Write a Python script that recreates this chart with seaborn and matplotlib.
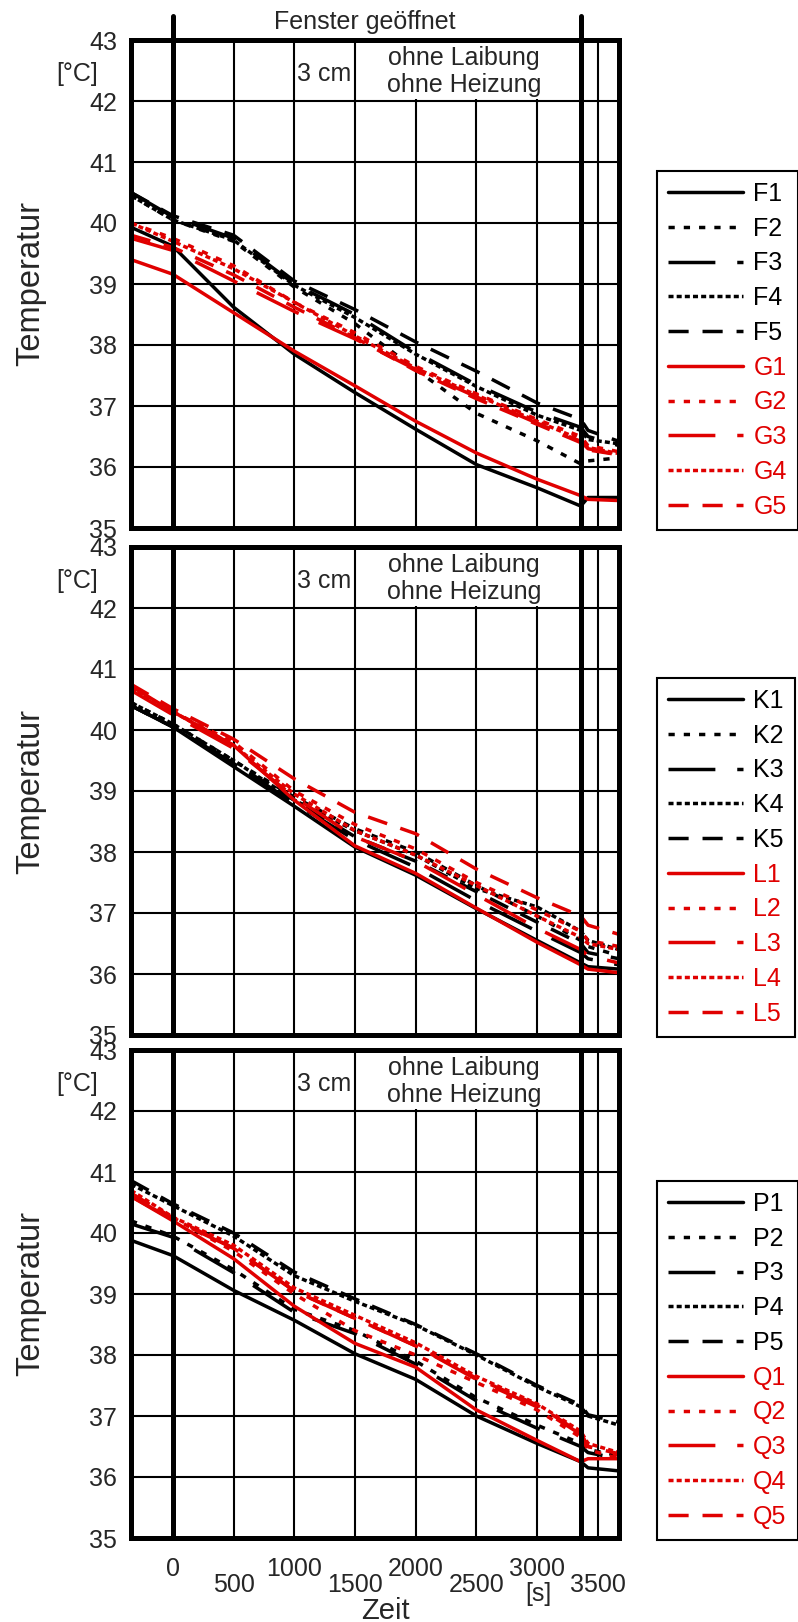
import matplotlib
matplotlib.use('Agg')
import matplotlib.pyplot as plt
import seaborn as sns
import pandas as pd
from matplotlib.patches import Rectangle
from matplotlib.lines import Line2D

sns.set_style('white')
plt.rcParams['font.family'] = ['Liberation Sans', 'DejaVu Sans']

# ---------------- data ----------------
time_s = [-345, 0, 500, 1000, 1500, 2000, 2500, 3000, 3360, 3420, 3675]

# panel 1
F1 = [39.93, 39.62, 38.62, 37.85, 37.22, 36.62, 36.04, 35.66, 35.36, 35.50, 35.50]
F2 = [40.45, 40.05, 39.70, 38.95, 38.35, 37.60, 36.88, 36.43, 36.05, 36.10, 36.15]
F3 = [40.50, 40.10, 39.75, 39.00, 38.50, 37.88, 37.35, 36.90, 36.65, 36.50, 36.35]
F4 = [40.45, 40.05, 39.72, 38.98, 38.45, 37.85, 37.32, 36.85, 36.60, 36.45, 36.38]
F5 = [40.50, 40.12, 39.80, 39.05, 38.58, 38.05, 37.57, 37.05, 36.78, 36.60, 36.42]
G1 = [39.40, 39.16, 38.53, 37.90, 37.33, 36.75, 36.23, 35.80, 35.53, 35.47, 35.45]
G2 = [40.00, 39.75, 39.30, 38.70, 38.20, 37.65, 37.20, 36.78, 36.50, 36.35, 36.25]
G3 = [39.75, 39.55, 39.05, 38.55, 38.10, 37.60, 37.15, 36.72, 36.42, 36.30, 36.20]
G4 = [40.00, 39.70, 39.25, 38.70, 38.15, 37.62, 37.18, 36.75, 36.45, 36.32, 36.22]
G5 = [39.80, 39.60, 39.15, 38.62, 38.12, 37.58, 37.12, 36.70, 36.40, 36.28, 36.20]

# panel 2
K1 = [40.40, 40.05, 39.40, 38.75, 38.08, 37.62, 37.07, 36.55, 36.18, 36.12, 36.08]
K2 = [40.45, 40.10, 39.50, 38.90, 38.38, 38.00, 37.45, 36.95, 36.55, 36.45, 36.30]
K3 = [40.40, 40.05, 39.45, 38.80, 38.20, 37.75, 37.20, 36.70, 36.35, 36.25, 36.15]
K4 = [40.45, 40.10, 39.50, 38.85, 38.35, 37.95, 37.40, 37.10, 36.70, 36.55, 36.40]
K5 = [40.40, 40.05, 39.45, 38.85, 38.25, 37.85, 37.35, 36.85, 36.50, 36.35, 36.25]
L1 = [40.72, 40.30, 39.75, 38.85, 38.10, 37.65, 37.08, 36.52, 36.15, 36.08, 36.02]
L2 = [40.70, 40.30, 39.80, 39.00, 38.45, 38.05, 37.50, 37.05, 36.70, 36.55, 36.45]
L3 = [40.65, 40.25, 39.70, 38.90, 38.25, 37.85, 37.30, 36.75, 36.40, 36.30, 36.18]
L4 = [40.70, 40.30, 39.75, 38.95, 38.35, 37.95, 37.45, 36.95, 36.60, 36.50, 36.40]
L5 = [40.75, 40.35, 39.85, 39.20, 38.65, 38.30, 37.72, 37.25, 36.95, 36.80, 36.65]

# panel 3
P1 = [39.88, 39.63, 39.06, 38.57, 38.02, 37.60, 37.00, 36.55, 36.25, 36.15, 36.10]
P2 = [40.20, 39.95, 39.40, 38.75, 38.40, 37.90, 37.30, 36.85, 36.55, 36.45, 36.35]
P3 = [40.15, 39.93, 39.35, 38.70, 38.35, 37.85, 37.25, 36.80, 36.50, 36.40, 36.30]
P4 = [40.80, 40.45, 39.95, 39.30, 38.88, 38.49, 38.00, 37.48, 37.15, 37.00, 36.85]
P5 = [40.86, 40.48, 40.00, 39.36, 38.92, 38.50, 38.02, 37.50, 37.18, 37.02, 36.90]
Q1 = [40.60, 40.20, 39.58, 38.80, 38.19, 37.80, 37.10, 36.60, 36.25, 36.30, 36.30]
Q2 = [40.65, 40.25, 39.70, 39.00, 38.40, 38.00, 37.55, 37.10, 36.65, 36.45, 36.30]
Q3 = [40.60, 40.22, 39.75, 39.05, 38.60, 38.15, 37.60, 37.15, 36.70, 36.50, 36.35]
Q4 = [40.70, 40.26, 39.80, 39.10, 38.65, 38.20, 37.65, 37.20, 36.75, 36.55, 36.40]
Q5 = [40.65, 40.25, 39.75, 39.05, 38.60, 38.15, 37.62, 37.18, 36.72, 36.50, 36.38]

panels = [
    (['F1', 'F2', 'F3', 'F4', 'F5', 'G1', 'G2', 'G3', 'G4', 'G5'],
     [F1, F2, F3, F4, F5, G1, G2, G3, G4, G5]),
    (['K1', 'K2', 'K3', 'K4', 'K5', 'L1', 'L2', 'L3', 'L4', 'L5'],
     [K1, K2, K3, K4, K5, L1, L2, L3, L4, L5]),
    (['P1', 'P2', 'P3', 'P4', 'P5', 'Q1', 'Q2', 'Q3', 'Q4', 'Q5'],
     [P1, P2, P3, P4, P5, Q1, Q2, Q3, Q4, Q5]),
]

y_ticks = [35, 36, 37, 38, 39, 40, 41, 42, 43]
x_major = [0, 1000, 2000, 3000]
x_minor = [500, 1500, 2500, 3500]
window_open, window_close = 0, 3360

# ---------------- styles ----------------
RED = '#e00000'
BLACK = '#000000'
dash_list = ['', (1.8, 2.6), (13.5, 6.3), (1.45, 0.9), (5.8, 4.0)]
LW = 2.5

W, H = 798, 1622
fig = plt.figure(figsize=(W / 100, H / 100), dpi=100)

ax_tops = [40, 547, 1050]
ax_h = 488
left_px, right_px = 131, 619

for pi, (names, series) in enumerate(panels):
    top = ax_tops[pi]
    ax = fig.add_axes([left_px / W, 1 - (top + ax_h) / H,
                       (right_px - left_px) / W, ax_h / H])
    colors = [BLACK] * 5 + [RED] * 5
    dashes = dash_list + dash_list
    rows = []
    for n, s in zip(names, series):
        for t, v in zip(time_s, s):
            rows.append({'Zeit': t, 'Temperatur': v, 'Messstelle': n})
    df = pd.DataFrame(rows)
    sns.lineplot(data=df, x='Zeit', y='Temperatur', hue='Messstelle',
                 style='Messstelle', hue_order=names, style_order=names,
                 palette=dict(zip(names, colors)),
                 dashes=dict(zip(names, dashes)),
                 linewidth=LW, estimator=None, sort=False, legend=False,
                 ax=ax, zorder=2)

    ax.set_xlim(-345, 3675)
    ax.set_ylim(35, 43)
    ax.set_yticks(y_ticks)
    ax.set_xticks(x_major)
    ax.set_xticks(x_minor, minor=True)
    ax.set_axisbelow(True)
    ax.grid(True, which='both', axis='x', color='black', linewidth=1.5)
    ax.grid(True, which='major', axis='y', color='black', linewidth=1.5)
    for sp in ax.spines.values():
        sp.set_linewidth(3.6)
        sp.set_color('black')
        sp.set_zorder(6)
    ax.tick_params(axis='y', length=0, labelsize=18, pad=10)
    ax.tick_params(axis='x', which='both', length=0, labelsize=18)
    ax.tick_params(axis='x', which='major', pad=14)
    ax.tick_params(axis='x', which='minor', pad=25)
    ax.set_xlabel('')
    ax.set_ylabel('')
    if pi < 2:
        ax.set_xticklabels([])
        ax.set_xticklabels([], minor=True)
    else:
        ax.set_xticklabels([str(v) for v in x_major])
        ax.set_xticklabels([str(v) for v in x_minor], minor=True)

    ymax = 1.049 if pi == 0 else 1.0
    for xv in (window_open, window_close):
        ax.axvline(xv, ymin=0, ymax=ymax, color='black', lw=3.6,
                   clip_on=False, zorder=4)

    # white box behind annotation
    ax.add_patch(Rectangle((1525, 42.025), 3335 - 1525, 0.95,
                           facecolor='white', edgecolor='none', zorder=1))
    ax.text(1243, 42.45, '3 cm', ha='center', va='center', fontsize=18,
            zorder=5)
    ax.text(2396, 42.49, 'ohne Laibung\nohne Heizung', ha='center',
            va='center', fontsize=18, linespacing=1.15, zorder=5)
    ax.text(-0.1107, 42.45, '[°C]', transform=ax.get_yaxis_transform(),
            ha='center', va='center', fontsize=18)
    ax.text(-0.205, 0.5, 'Temperatur', transform=ax.transAxes, rotation=90,
            ha='center', va='center', fontsize=23.5)
    if pi == 0:
        ax.text(1580, 43.3, 'Fenster geöffnet', ha='center', va='center',
                fontsize=18, clip_on=False)

    handles = [Line2D([0], [0], color=c, lw=LW,
                      linestyle='-' if d == '' else (0, d))
               for c, d in zip(colors, dashes)]
    leg = ax.legend(handles, names, loc='lower left',
                    bbox_to_anchor=(1.078, -0.004), borderaxespad=0,
                    fontsize=18, handlelength=3.0, handletextpad=0.4,
                    labelspacing=0.43, borderpad=0.45, frameon=True,
                    fancybox=False, edgecolor='black', framealpha=1)
    leg.get_frame().set_linewidth(1.5)
    for txt, c in zip(leg.get_texts(), colors):
        txt.set_color(c)

fig.text(385 / W, 1 - 1611 / H, 'Zeit', ha='center', va='center', fontsize=21)
fig.text(538 / W, 1 - 1594 / H, '[s]', ha='center', va='center', fontsize=18)

fig.savefig('out.png', dpi=100)
